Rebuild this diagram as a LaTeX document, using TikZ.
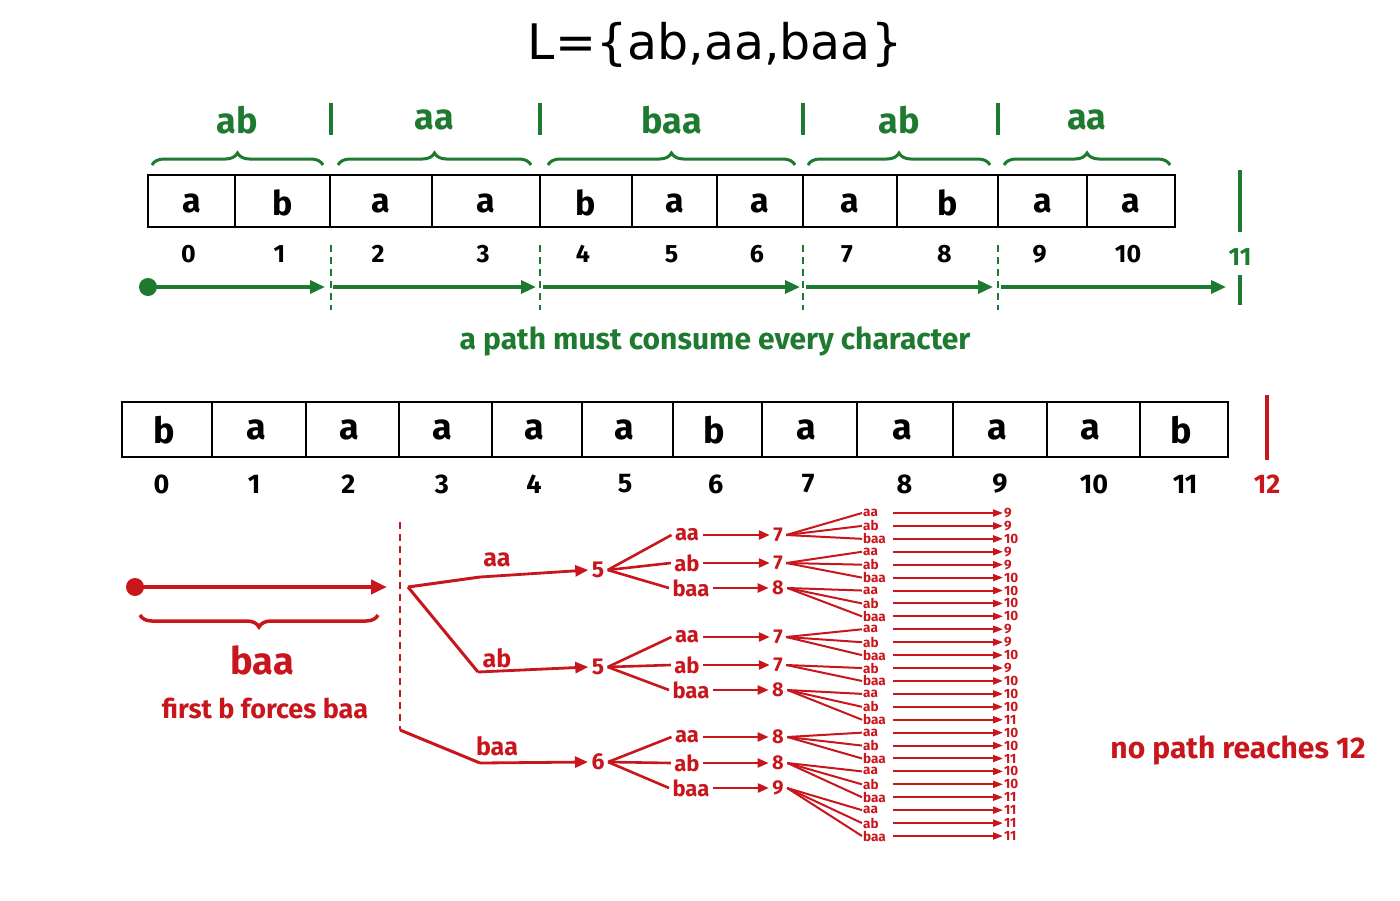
\documentclass[tikz,border=0pt]{standalone}
\usepackage{fontspec}
\setmainfont{Fira Sans}
\newfontfamily\titlefont{DejaVu Sans}
\usetikzlibrary{decorations.pathreplacing,arrows.meta}
\definecolor{gr}{HTML}{1E7A30}
\definecolor{rd}{HTML}{C8161D}
\newcommand{\fs}[1]{\fontsize{#1}{#1}\selectfont}
\begin{document}
\begin{tikzpicture}[x=1pt,y=-1pt,
  idx/.style={font=\fs{25}\bfseries},
  garr/.style={gr,line width=3.4pt,-{Triangle[length=15pt,width=13pt]}},
  rarr/.style={rd,line width=2.8pt,-{Triangle[length=13pt,width=11pt]}},
  rsm/.style={rd,line width=2.4pt,-{Triangle[length=11pt,width=9pt]}},
  rline/.style={rd,line width=2.6pt},
  gdash/.style={line width=2.4pt,dash pattern=on 7pt off 5pt},
  brc/.style={decorate,decoration={brace,amplitude=12pt},line width=3pt}]
\useasboundingbox (0,0) rectangle (1400,900);
\node (title) at (715,45) {\titlefont\fs{49}L=\{ab,aa,baa\}};
% top strip
\foreach \xa/\xb/\l/\n [count=\i] in {148/235/a/0,235/330/b/1,330/432/a/2,432/540/a/3,540/632/b/4,632/717/a/5,717/803/a/6,803/897/a/7,897/998/b/8,998/1087/a/9,1087/1175/a/10}{
  \draw[line width=2.6pt] (\xa,175) rectangle (\xb,227);
  \node[font=\fs{34}\bfseries] (t\i) at ({(\xa+\xb)/2},203) {\l};
  \node[idx] (ti\i) at ({(\xa+\xb)/2-3},254) {\n};
}
\draw[gr,line width=4.5pt] (1240,170) -- (1240,232);
\node[gr,idx] (t11) at (1240,257) {11};
\foreach \x in {331,540,803,998}{
  \draw[gr,line width=3.5pt] (\x,103) -- (\x,135);
  \draw[gr,gdash] (\x,245) -- (\x,310);
}
\foreach \xa/\xb/\w in {152/323/ab,338/531/aa,548/795/baa,808/990/ab,1004/1170/aa}{
  \draw[gr,brc] (\xa,165) -- (\xb,165);
  \node[gr,font=\fs{36}\bfseries] at ({(\xa+\xb)/2},120) {\w};
}
\fill[gr] (148,287) circle (9pt);
\foreach \xa/\xb [count=\i] in {148/325,333/536,543/800,806/993,1001/1226}{
  \coordinate (ga\i) at (\xa,287); \coordinate (gb\i) at (\xb,287);
  \draw[garr] (ga\i) -- (gb\i);
}
\draw[gr,line width=4pt] (1240,275) -- (1240,305);
\node[gr,font=\fs{30}\bfseries] (ptxt) at (715,341) {a path must consume every character};
% bottom strip
\foreach \xa/\xb/\l/\n [count=\i] in {122/212/b/0,212/306/a/1,306/399/a/2,399/492/a/3,492/582/a/4,582/673/a/5,673/762/b/6,762/857/a/7,857/953/a/8,953/1047/a/9,1047/1140/a/10,1140/1228/b/11}{
  \draw[line width=2.6pt] (\xa,402) rectangle (\xb,457);
  \node[font=\fs{36}\bfseries] (b\i) at ({(\xa+\xb)/2-3},430) {\l};
  \node[idx,font=\fs{27}\bfseries] (bi\i) at ({(\xa+\xb)/2+\i*0.6-6},484) {\n};
}
\draw[rd,line width=4.5pt] (1267,395) -- (1267,460);
\node[rd,font=\fs{27}\bfseries] (b12) at (1267,484) {12};
% red part
\fill[rd] (135,587) circle (9pt);
\coordinate (r0) at (135,587); \coordinate (r1) at (387,587);
\draw[rd,line width=4.5pt,-{Triangle[length=16pt,width=14pt]}] (r0) -- (r1);
\draw[rd,brc,line width=3.5pt] (378,615) -- (140,615);
\node[rd,font=\fs{38}\bfseries] (baa) at (262,660) {baa};
\node[rd,font=\fs{27}\bfseries] (fb) at (265,708) {first b forces baa};
\draw[rd,line width=2.4pt,dash pattern=on 7pt off 5pt] (400,522) -- (400,730);
\node[rd,font=\fs{30}\bfseries] (np) at (1238,750) {no path reaches 12};
% level 1
\foreach \y/\n/\l/\ly [count=\i] in {570/5/aa/560,667/5/ab/658,762/6/baa/746}{
  \node[rd,font=\fs{23}\bfseries] (n\i) at (598,\y) {\n};
  \node[rd,font=\fs{25}\bfseries] (l\i) at (497,\ly) {\l};
}
\coordinate (s) at (408,587);
\coordinate (k1) at (480,577); \coordinate (k2) at (478,672);
\coordinate (k3) at (480,763); \coordinate (s3) at (400,730);
\draw[rline,line width=3pt] (s) -- (k1); \draw[rarr] (k1) -- (n1.west);
\draw[rline,line width=3pt] (s) -- (k2); \draw[rarr] (k2) -- (n2.west);
\draw[rline,line width=3pt] (s3) -- (k3); \draw[rarr] (k3) -- (n3.west);
% level 2
\foreach \g/\ya/\yb/\yc/\ma/\mb/\mc [count=\gi] in {1/535/563/588/7/7/8,2/637/665/690/7/7/8,3/737/763/788/8/8/9}{
  \node[rd,font=\fs{22}\bfseries] (p\g a) at (687,\ya) {aa};
  \node[rd,font=\fs{22}\bfseries] (p\g b) at (687,\yb) {ab};
  \node[rd,font=\fs{22}\bfseries] (p\g c) at (691,\yc) {baa};
  \node[rd,font=\fs{20}\bfseries] (q\g a) at (778,\ya) {\ma};
  \node[rd,font=\fs{20}\bfseries] (q\g b) at (778,\yb) {\mb};
  \node[rd,font=\fs{20}\bfseries] (q\g c) at (778,\yc) {\mc};
  \foreach \s in {a,b,c}{
    \draw[rline] (n\g.east) -- (p\g\s.west);
    \draw[rsm] (p\g\s.east) -- (q\g\s.west);
  }
}
% leaves
\foreach \l/\t [count=\i] in {aa/9,ab/9,baa/10,aa/9,ab/9,baa/10,aa/10,ab/10,baa/10,aa/9,ab/9,baa/10,ab/9,baa/10,aa/10,ab/10,baa/11,aa/10,ab/10,baa/11,aa/10,ab/10,baa/11,aa/11,ab/11,baa/11}{
  \node[rd,font=\fs{13.5}\bfseries,inner sep=0pt,anchor=west] (f\i) at (863,{513+(\i-1)*12.92}) {\l};
  \node[rd,font=\fs{13.5}\bfseries,inner sep=0pt,anchor=west] (e\i) at (1004,{513+(\i-1)*12.92}) {\t};
  \draw[rd,line width=2pt,-{Triangle[length=10pt,width=7pt]}] (893,{513+(\i-1)*12.92}) -- ([xshift=-1pt]e\i.west);
}
\foreach \m/\a/\b in {q1a/1/3,q1b/4/6,q1c/7/9,q2a/10/12,q2b/13/14,q2c/15/17,q3a/18/20,q3b/21/23,q3c/24/26}{
  \foreach \k in {\a,...,\b}{ \draw[rline,line width=2pt] (\m.east) -- ([xshift=-1pt]f\k.west); }
}
\end{tikzpicture}
\end{document}
